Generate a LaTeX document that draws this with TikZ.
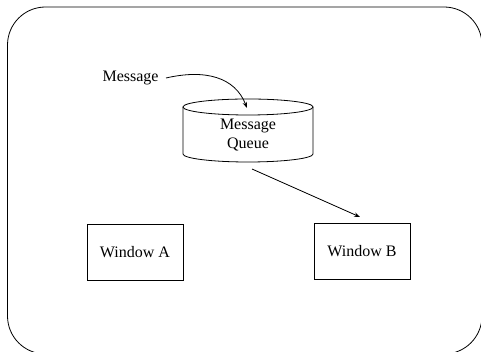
\documentclass[tikz,border=0pt]{standalone}
\usepackage{fontspec}
\setmainfont{Liberation Serif}
\usetikzlibrary{arrows.meta}
\begin{document}
\begin{tikzpicture}[x=1pt,y=1pt,
  line width=0.8pt,
  txt/.style={font=\fontsize{16}{19}\selectfont, inner sep=0pt, align=center},
  winbox/.style={draw, minimum width=96pt, minimum height=56pt, inner sep=0pt, font=\fontsize{16}{19}\selectfont},
  arr/.style={-{Stealth[length=6pt,width=4.5pt]}}]
\useasboundingbox (0,0) rectangle (481,352);
\clip (0,0) rectangle (481,352);
% outer frame
\draw[rounded corners=38pt] (7.5,345) rectangle (482,-2);
% cylinder
\draw (183,245) -- (183,198) arc[start angle=180, end angle=360, x radius=65, y radius=8] -- (313,245);
\draw (248,245) ellipse[x radius=65, y radius=8];
\node[txt] (q) at (248,216.5) {Message\\Queue};
% message label
\node[txt, anchor=east] (msg) at (159,274) {Message};
\coordinate (qin) at (247,244);
\draw[arr] (msg.east) ++(7,0) .. controls (205,283) and (235,275) .. (qin);
% windows
\node[winbox] (wa) at (135,100) {Window A};
\node[winbox] (wb) at (362,101) {Window B};
\coordinate (qout) at (252,183);
\coordinate (bin) at (360,135);
\draw[arr] (qout) -- (bin);
\end{tikzpicture}
\end{document}
